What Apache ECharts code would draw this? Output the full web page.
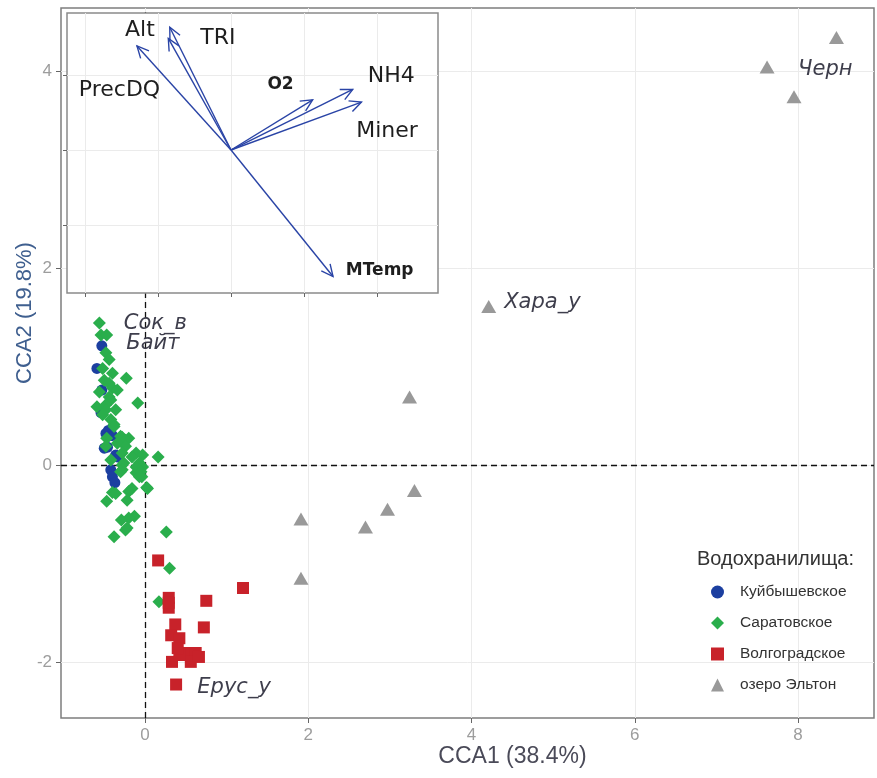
<!DOCTYPE html>
<html><head><meta charset="utf-8">
<script src="https://cdn.jsdelivr.net/npm/echarts@6/dist/echarts.min.js"></script>
<style>html,body{margin:0;padding:0;background:#fff}#c{width:877px;height:778px}</style>
</head><body><div id="c"></div>
<script>
// ---- data (CCA1, CCA2) ----
const kuibyshev = [[-0.53,1.21],[-0.59,0.98],[-0.53,0.76],[-0.54,0.53],[-0.45,0.35],[-0.42,0.30],[-0.50,0.17],[-0.46,0.18],[-0.36,0.10],[-0.33,0.08],[-0.42,-0.05],[-0.40,-0.12],[-0.37,-0.18],[-0.40,0.30],[-0.48,0.32]];
const saratov = [[-0.56,1.44],[-0.54,1.32],[-0.47,1.32],[-0.48,1.14],[-0.44,1.07],[-0.52,0.98],[-0.40,0.93],[-0.23,0.88],[-0.50,0.86],[-0.44,0.83],[-0.40,0.78],[-0.34,0.76],[-0.56,0.74],[-0.44,0.69],[-0.42,0.66],[-0.09,0.63],[-0.59,0.59],[-0.48,0.61],[-0.48,0.56],[-0.36,0.56],[-0.52,0.51],[-0.42,0.46],[-0.38,0.41],[-0.38,0.39],[-0.30,0.29],[-0.28,0.28],[-0.47,0.27],[-0.20,0.27],[-0.24,0.25],[-0.34,0.22],[-0.48,0.19],[-0.24,0.19],[-0.11,0.12],[-0.28,0.12],[-0.03,0.10],[0.16,0.08],[-0.16,0.08],[-0.42,0.05],[-0.26,0.02],[-0.07,0.02],[-0.28,0.00],[-0.11,-0.02],[-0.03,-0.02],[-0.28,-0.05],[-0.30,-0.07],[-0.11,-0.08],[-0.05,-0.07],[-0.04,-0.12],[-0.07,-0.12],[0.02,-0.23],[0.03,-0.24],[-0.16,-0.24],[-0.20,-0.27],[-0.40,-0.28],[-0.36,-0.29],[-0.22,-0.36],[-0.47,-0.37],[-0.13,-0.52],[-0.20,-0.54],[-0.29,-0.56],[-0.24,-0.66],[-0.22,-0.64],[-0.38,-0.73],[0.26,-0.68],[0.30,-1.05],[0.17,-1.39]];
const volgograd = [[0.16,-0.97],[1.20,-1.25],[0.29,-1.35],[0.29,-1.45],[0.29,-1.40],[0.75,-1.38],[0.72,-1.65],[0.37,-1.62],[0.32,-1.73],[0.42,-1.76],[0.48,-1.91],[0.62,-1.91],[0.33,-2.00],[0.56,-2.00],[0.42,-1.93],[0.38,-2.23],[0.66,-1.95],[0.40,-1.86]];
const elton = [[4.21,1.61],[3.24,0.69],[3.30,-0.26],[2.97,-0.45],[2.70,-0.63],[1.91,-0.55],[1.91,-1.15],[8.47,4.34],[7.62,4.04],[7.95,3.74]];
const seriesNames = ['Куйбышевское','Саратовское','Волгоградское','озеро Эльтон'];
const siteLabelText = ['Сок_в','Байт','Хара_у','Черн','Ерус_у'];
const siteLabelX = [-0.26,-0.23,4.40,8.00,0.64];
const siteLabelY = [1.44,1.23,1.65,4.02,-2.26];
const xTicks = [0,2,4,6,8];
const yTicks = [-2,0,2,4];
// ---- inset biplot vectors ----
const vectorNames = ['Alt','TRI','PrecDQ','O2','NH4','Miner','MTemp'];
const vectorX = [-1.29,-0.84,-0.86,1.12,1.67,1.79,1.40];
const vectorY = [1.39,1.64,1.49,0.67,0.81,0.64,-1.69];
const vectorLabelX = [-1.25,-0.18,-1.53,0.68,2.20,2.14,2.04];
const vectorLabelY = [1.60,1.49,0.80,0.87,0.99,0.25,-1.61];
const vectorLabelBold = [false,false,false,true,false,false,true];
const insetXTicks = [-2,-1,0,1,2];
const insetYTicks = [-1,0,1];

const chart = echarts.init(document.getElementById('c'), null, {renderer:'canvas'});
const colors = ['#1c3fa0','#2aae4c','#c8222a','#999999'];
const symbols = ['circle','diamond','square','triangle'];
const sizes = [11,13,12,[15,13]];
const datasets = [kuibyshev, saratov, volgograd, elton];
const gridLineColor = '#ebebeb';
const tickFont = 'Liberation Sans Narrow, Liberation Sans, Arial, sans-serif';

const series = datasets.map((d,i)=>({
  name: seriesNames[i], type:'scatter', xAxisIndex:0, yAxisIndex:0,
  data: d, symbol: symbols[i], symbolSize: sizes[i],
  itemStyle:{color: colors[i], opacity:1}, z: 2
}));
series[0].markLine = {
  silent:true, symbol:'none', label:{show:false},
  lineStyle:{color:'#111', type:[6,4], width:1.3},
  data:[{xAxis:0},{yAxis:0}], z:1
};
series.push({
  type:'custom', name:'siteLabels', xAxisIndex:0, yAxisIndex:0, z:3, silent:true,
  data: siteLabelText.map((t,i)=>[siteLabelX[i], siteLabelY[i]]),
  renderItem(params, api){
    const p = api.coord([api.value(0), api.value(1)]);
    return {type:'text', x:p[0], y:p[1], style:{text: siteLabelText[params.dataIndex], fill:'#3e3e4c',
      font:'italic 21px "DejaVu Sans", Verdana, sans-serif', align:'left', verticalAlign:'middle'}};
  }
});
series.push({
  type:'custom', name:'vectors', xAxisIndex:1, yAxisIndex:1, z:12, silent:true, clip:false,
  data: vectorNames.map((n,i)=>[vectorX[i], vectorY[i]]),
  renderItem(params, api){
    const s = api.coord([0,0]);
    const e = api.coord([api.value(0), api.value(1)]);
    const ang = Math.atan2(e[1]-s[1], e[0]-s[0]);
    const L = 13, a = Math.PI/7;
    const p1 = [e[0]-L*Math.cos(ang-a), e[1]-L*Math.sin(ang-a)];
    const p2 = [e[0]-L*Math.cos(ang+a), e[1]-L*Math.sin(ang+a)];
    const st = {stroke:'#2a44a6', lineWidth:1.4, fill:null};
    return {type:'group', children:[
      {type:'line', shape:{x1:s[0],y1:s[1],x2:e[0],y2:e[1]}, style:st},
      {type:'polyline', shape:{points:[p1,e,p2]}, style:st}
    ]};
  }
});
series.push({
  type:'custom', name:'vectorLabels', xAxisIndex:1, yAxisIndex:1, z:12, silent:true, clip:false,
  data: vectorNames.map((n,i)=>[vectorLabelX[i], vectorLabelY[i]]),
  renderItem(params, api){
    const i = params.dataIndex;
    const p = api.coord([api.value(0), api.value(1)]);
    const bold = vectorLabelBold[i];
    return {type:'text', x:p[0], y:p[1], style:{text: vectorNames[i], fill:'#1e1e1e',
      font:(bold?'bold 17px':'22px')+' "DejaVu Sans", Verdana, sans-serif', align:'center', verticalAlign:'middle'}};
  }
});

chart.setOption({
  animation:false,
  backgroundColor:'#ffffff',
  title:{text:'Водохранилища:', left:697, top:549, padding:0,
    textStyle:{fontSize:20, fontWeight:'normal', color:'#333', fontFamily:'Liberation Sans, Arial, sans-serif'}},
  legend:{
    data: seriesNames, orient:'vertical', left:711, top:584, padding:0, itemWidth:13, itemHeight:13, itemGap:15,
    textStyle:{fontSize:15.5, color:'#333', fontFamily:'Liberation Sans, Arial, sans-serif', padding:[0,0,0,11]},
    selectedMode:false
  },
  grid:[
    {left:61, top:8, width:813, height:710, show:true, borderColor:'#7d7d7d', borderWidth:1.5, backgroundColor:'#fff', z:0, containLabel:false, outerBoundsMode:'none'},
    {left:67, top:13, width:371, height:280, show:true, borderColor:'#8a8a8a', borderWidth:1.5, backgroundColor:'#fff', z:10, containLabel:false, outerBoundsMode:'none'}
  ],
  xAxis:[
    {type:'value', gridIndex:0, min:-1.03, max:8.93, minInterval:1, maxInterval:1,
     splitLine:{show:true, lineStyle:{color:gridLineColor, width:1}},
     axisLine:{show:false, onZero:false},
     axisTick:{show:true, customValues:xTicks, length:5, lineStyle:{color:'#666'}},
     axisLabel:{customValues:xTicks, color:'#9d9d9d', fontSize:17, fontFamily:tickFont, margin:9},
     name:'CCA1 (38.4%)', nameLocation:'middle', nameGap:27, nameMoveOverlap:false,
     nameTextStyle:{fontSize:23, color:'#4a4a58', fontFamily:tickFont, padding:[0,0,0,90]}},
    {type:'value', gridIndex:1, min:-2.25, max:2.84, minInterval:0.5, maxInterval:0.5, z:11,
     splitLine:{show:true, lineStyle:{color:gridLineColor, width:1}},
     axisLine:{show:false, onZero:false},
     axisTick:{show:true, customValues:insetXTicks, length:4, lineStyle:{color:'#666'}},
     axisLabel:{show:false}}
  ],
  yAxis:[
    {type:'value', gridIndex:0, min:-2.57, max:4.64, minInterval:1, maxInterval:1,
     splitLine:{show:true, lineStyle:{color:gridLineColor, width:1}},
     axisLine:{show:false, onZero:false},
     axisTick:{show:true, customValues:yTicks, length:5, lineStyle:{color:'#666'}},
     axisLabel:{customValues:yTicks, color:'#9d9d9d', fontSize:17, fontFamily:tickFont, margin:9},
     name:'CCA2 (19.8%)', nameLocation:'middle', nameGap:25, nameRotate:90, nameMoveOverlap:false,
     nameTextStyle:{fontSize:22, color:'#3f5f8f', fontFamily:'Liberation Sans, Arial, sans-serif', padding:[0,0,0,100]}},
    {type:'value', gridIndex:1, min:-1.91, max:1.83, minInterval:0.5, maxInterval:0.5, z:11,
     splitLine:{show:true, lineStyle:{color:gridLineColor, width:1}},
     axisLine:{show:false, onZero:false},
     axisTick:{show:true, customValues:insetYTicks, length:4, lineStyle:{color:'#666'}},
     axisLabel:{show:false}}
  ],
  series
});
</script></body></html>
